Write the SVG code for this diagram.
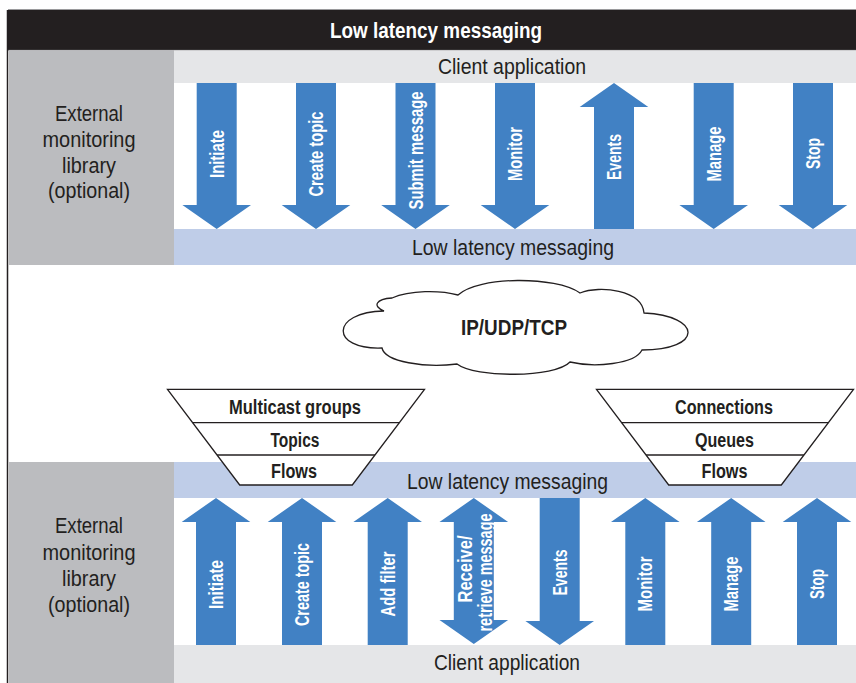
<svg xmlns="http://www.w3.org/2000/svg" width="856" height="683" viewBox="0 0 856 683">
  <style>
    .reg { font-family: "Liberation Sans Narrow", "Liberation Sans", sans-serif; font-size: 22px; fill: #231f20; text-anchor: middle; }
    .title { font-family: "Liberation Sans Narrow", "Liberation Sans", sans-serif; font-size: 22px; font-weight: bold; fill: #ffffff; text-anchor: middle; }
    .lbl { font-family: "Liberation Sans Narrow", "Liberation Sans", sans-serif; font-size: 19.5px; font-weight: bold; fill: #ffffff; text-anchor: middle; }
    .blk { font-family: "Liberation Sans Narrow", "Liberation Sans", sans-serif; font-size: 20px; font-weight: bold; fill: #231f20; text-anchor: middle; }
    .arrow { fill: #4181c4; }
    .shape { fill: #ffffff; stroke: #231f20; stroke-width: 1.3; }
    .div { stroke: #231f20; stroke-width: 1.3; fill: none; }
  </style>
  <defs>
    <!-- arrows drawn around a centre x = 0; heads 68 wide, 24 long, shafts 40 wide -->
    <path id="downTop" d="M-20,83 H20 V205 H34.3 L0,229 L-34.3,205 H-20 Z"/>
    <path id="upTop" d="M0,83 L34.3,107 H20 V229 H-20 V107 H-34.3 Z"/>
    <path id="upBot" d="M0,498 L34.3,522 H20 V645 H-20 V522 H-34.3 Z"/>
    <path id="downBot" d="M-20,498 H20 V621 H34.3 L0,645 L-34.3,621 H-20 Z"/>
    <path id="bothBot" d="M0,498 L34.3,522 H20 V620 H34.3 L0,644 L-34.3,620 H-20 V522 H-34.3 Z"/>
  </defs>

  <!-- frame and header -->
  <g id="frame">
    <rect x="0" y="0" width="856" height="683" fill="#ffffff"/>
    <line x1="8" y1="9.5" x2="856" y2="9.5" stroke="#9a9a9c" stroke-width="1"/>
    <rect x="8" y="10" width="848" height="40" fill="#231f20"/>
    <line x1="8" y1="50.3" x2="856" y2="50.3" stroke="#8e8e90" stroke-width="0.8"/>
    <line x1="7.5" y1="10" x2="7.5" y2="683" stroke="#231f20" stroke-width="1.5"/>
    <text class="title" x="436" y="37.5" textLength="212" lengthAdjust="spacingAndGlyphs">Low latency messaging</text>
  </g>

  <!-- upper stack -->
  <g id="top-monitor">
    <rect x="9" y="50.5" width="165" height="214.5" fill="#bbbcbf"/>
    <text class="reg" x="89" y="120.5" textLength="68" lengthAdjust="spacingAndGlyphs">External</text>
    <text class="reg" x="89" y="147" textLength="93" lengthAdjust="spacingAndGlyphs">monitoring</text>
    <text class="reg" x="89" y="173" textLength="54" lengthAdjust="spacingAndGlyphs">library</text>
    <text class="reg" x="89" y="198" textLength="82" lengthAdjust="spacingAndGlyphs">(optional)</text>
  </g>
  <g id="top-client">
    <rect x="174" y="50.5" width="682" height="32.5" fill="#e5e6e8"/>
    <text class="reg" x="512" y="74" textLength="148" lengthAdjust="spacingAndGlyphs">Client application</text>
  </g>
  <g id="top-llm">
    <rect x="174" y="229" width="682" height="36" fill="#bfcde8"/>
    <text class="reg" x="513" y="255" textLength="202" lengthAdjust="spacingAndGlyphs">Low latency messaging</text>
  </g>

  <!-- lower stack -->
  <g id="bottom-monitor">
    <rect x="9" y="462" width="165" height="221" fill="#bbbcbf"/>
    <text class="reg" x="89" y="533.3" textLength="68" lengthAdjust="spacingAndGlyphs">External</text>
    <text class="reg" x="89" y="560" textLength="93" lengthAdjust="spacingAndGlyphs">monitoring</text>
    <text class="reg" x="89" y="586" textLength="54" lengthAdjust="spacingAndGlyphs">library</text>
    <text class="reg" x="89" y="611.5" textLength="82" lengthAdjust="spacingAndGlyphs">(optional)</text>
  </g>
  <g id="bottom-llm">
    <rect x="174" y="462" width="682" height="36" fill="#bfcde8"/>
    <text class="reg" x="507.5" y="489" textLength="201" lengthAdjust="spacingAndGlyphs">Low latency messaging</text>
  </g>
  <g id="bottom-client">
    <rect x="174" y="645" width="682" height="38" fill="#e5e6e8"/>
    <text class="reg" x="507" y="670" textLength="146" lengthAdjust="spacingAndGlyphs">Client application</text>
  </g>

  <!-- network cloud -->
  <g id="network">
    <path class="shape" d="M384,311 C372,306 376,299 392,298 C410,290 440,290 458,295 C478,276 556,276 580,293 C600,285 642,290 644,313 C703,316 703,350 642,350 C635,364 595,368 570,362 C555,378 475,378 457,364 C425,368 385,362 382,348 C330,350 330,312 384,311 Z"/>
    <text class="blk" style="font-size:21.5px" x="514" y="335" textLength="106" lengthAdjust="spacingAndGlyphs">IP/UDP/TCP</text>
  </g>

  <!-- multicast funnel -->
  <g id="funnel-multicast">
    <path class="shape" d="M167.5,389.3 H424.5 L352.3,485 H239.7 Z"/>
    <line class="div" x1="192.7" y1="422.7" x2="399.3" y2="422.7"/>
    <line class="div" x1="217.1" y1="455" x2="374.9" y2="455"/>
    <text class="blk" x="295" y="414" textLength="132" lengthAdjust="spacingAndGlyphs">Multicast groups</text>
    <text class="blk" x="295" y="446.5" textLength="49" lengthAdjust="spacingAndGlyphs">Topics</text>
    <text class="blk" x="294" y="478" textLength="46" lengthAdjust="spacingAndGlyphs">Flows</text>
  </g>

  <!-- connection funnel -->
  <g id="funnel-connections">
    <path class="shape" d="M596.5,389.3 H853.5 L781.3,485 H668.7 Z"/>
    <line class="div" x1="621.7" y1="422.7" x2="828.3" y2="422.7"/>
    <line class="div" x1="646.1" y1="455" x2="803.9" y2="455"/>
    <text class="blk" x="724" y="414" textLength="98" lengthAdjust="spacingAndGlyphs">Connections</text>
    <text class="blk" x="724.5" y="446.5" textLength="59" lengthAdjust="spacingAndGlyphs">Queues</text>
    <text class="blk" x="724.5" y="478" textLength="46" lengthAdjust="spacingAndGlyphs">Flows</text>
  </g>

  <!-- API calls between client application and messaging layer -->
  <g id="connectors">
    <g id="top-initiate" transform="translate(216.7,0)">
      <use href="#downTop" class="arrow"/>
      <text class="lbl" transform="translate(0,154) rotate(-90)" y="7" textLength="48" lengthAdjust="spacingAndGlyphs">Initiate</text>
    </g>
    <g id="top-create-topic" transform="translate(316,0)">
      <use href="#downTop" class="arrow"/>
      <text class="lbl" transform="translate(0,154) rotate(-90)" y="7" textLength="85" lengthAdjust="spacingAndGlyphs">Create topic</text>
    </g>
    <g id="top-submit" transform="translate(415.5,0)">
      <use href="#downTop" class="arrow"/>
      <text class="lbl" transform="translate(0,150.5) rotate(-90)" y="7" textLength="118" lengthAdjust="spacingAndGlyphs">Submit message</text>
    </g>
    <g id="top-monitor-call" transform="translate(515,0)">
      <use href="#downTop" class="arrow"/>
      <text class="lbl" transform="translate(0,154) rotate(-90)" y="7" textLength="54" lengthAdjust="spacingAndGlyphs">Monitor</text>
    </g>
    <g id="top-events" transform="translate(614,0)">
      <use href="#upTop" class="arrow"/>
      <text class="lbl" transform="translate(0,157) rotate(-90)" y="7" textLength="46" lengthAdjust="spacingAndGlyphs">Events</text>
    </g>
    <g id="top-manage" transform="translate(713.7,0)">
      <use href="#downTop" class="arrow"/>
      <text class="lbl" transform="translate(0,154) rotate(-90)" y="7" textLength="55" lengthAdjust="spacingAndGlyphs">Manage</text>
    </g>
    <g id="top-stop" transform="translate(813,0)">
      <use href="#downTop" class="arrow"/>
      <text class="lbl" transform="translate(0,153.5) rotate(-90)" y="7" textLength="31" lengthAdjust="spacingAndGlyphs">Stop</text>
    </g>

    <g id="bot-initiate" transform="translate(216,0)">
      <use href="#upBot" class="arrow"/>
      <text class="lbl" transform="translate(0,584.5) rotate(-90)" y="7" textLength="49" lengthAdjust="spacingAndGlyphs">Initiate</text>
    </g>
    <g id="bot-create-topic" transform="translate(302,0)">
      <use href="#upBot" class="arrow"/>
      <text class="lbl" transform="translate(0,584.5) rotate(-90)" y="7" textLength="83" lengthAdjust="spacingAndGlyphs">Create topic</text>
    </g>
    <g id="bot-add-filter" transform="translate(387.7,0)">
      <use href="#upBot" class="arrow"/>
      <text class="lbl" transform="translate(0,584) rotate(-90)" y="7" textLength="65" lengthAdjust="spacingAndGlyphs">Add filter</text>
    </g>
    <g id="bot-receive" transform="translate(473.8,0)">
      <use href="#bothBot" class="arrow"/>
      <text class="lbl" transform="translate(0,569) rotate(-90)" y="-2" textLength="67" lengthAdjust="spacingAndGlyphs">Receive/</text>
      <text class="lbl" transform="translate(0,572.5) rotate(-90)" y="18" textLength="118" lengthAdjust="spacingAndGlyphs">retrieve message</text>
    </g>
    <g id="bot-events" transform="translate(559.7,0)">
      <use href="#downBot" class="arrow"/>
      <text class="lbl" transform="translate(0,572.5) rotate(-90)" y="7" textLength="46" lengthAdjust="spacingAndGlyphs">Events</text>
    </g>
    <g id="bot-monitor" transform="translate(645.3,0)">
      <use href="#upBot" class="arrow"/>
      <text class="lbl" transform="translate(0,584) rotate(-90)" y="7" textLength="55" lengthAdjust="spacingAndGlyphs">Monitor</text>
    </g>
    <g id="bot-manage" transform="translate(731.2,0)">
      <use href="#upBot" class="arrow"/>
      <text class="lbl" transform="translate(0,584) rotate(-90)" y="7" textLength="55" lengthAdjust="spacingAndGlyphs">Manage</text>
    </g>
    <g id="bot-stop" transform="translate(817,0)">
      <use href="#upBot" class="arrow"/>
      <text class="lbl" transform="translate(0,584) rotate(-90)" y="7" textLength="30" lengthAdjust="spacingAndGlyphs">Stop</text>
    </g>
  </g>
</svg>
